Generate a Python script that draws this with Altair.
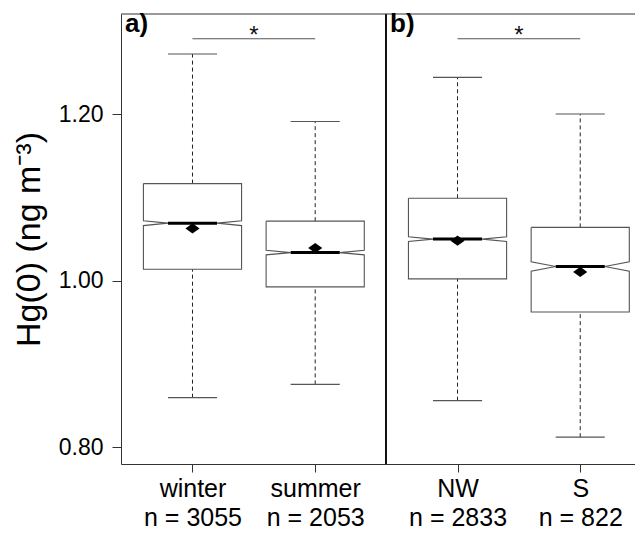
import altair as alt
import pandas as pd
import math

# ---------------- data ----------------
categories = ["winter", "summer", "NW", "S"]
counts = [3055, 2053, 2833, 822]
upper_whisker = [1.272, 1.191, 1.244, 1.200]
q3 = [1.1165, 1.0714, 1.0989, 1.0639]
median = [1.069, 1.0337, 1.0499, 1.017]
q1 = [1.0137, 0.9926, 1.0022, 0.9624]
lower_whisker = [0.8596, 0.8755, 0.856, 0.8122]
mean = [1.0627, 1.0392, 1.048, 1.0105]
comparisons = [("winter", "summer"), ("NW", "S")]
sig_labels = ["*", "*"]
panel_tags = ["a)", "b)"]
y_ticks = [0.80, 1.00, 1.20]
y_title = "Hg(0) (ng m\u207b\u00b3)"

# ---------------- layout (positions / sizes) ----------------
positions = [1.0, 2.0, 3.16, 4.16]
panel_left = [0.4173, 2.577]
divider = [2.577]
W, H = 514, 450
x_domain = [0.4173, 0.4173 + W / 122.7]
y_domain = [0.78, 1.32]
sig_y = 1.2903
half_box = 0.4
half_notch = 0.2
FONT = "Liberation Sans"

pos = dict(zip(categories, positions))

stats = pd.DataFrame({
    "cat": categories, "pos": positions, "n": counts,
    "uw": upper_whisker, "q3": q3, "med": median, "q1": q1,
    "lw": lower_whisker, "mean": mean,
})
stats["capL"] = stats["pos"] - half_notch
stats["capR"] = stats["pos"] + half_notch
stats["notch"] = 1.58 * (stats["q3"] - stats["q1"]) / stats["n"].apply(math.sqrt)

rows = []
for _, r in stats.iterrows():
    p = r["pos"]
    nhi, nlo = r["med"] + r["notch"], r["med"] - r["notch"]
    pts = [(p - half_box, r["q3"]), (p + half_box, r["q3"]), (p + half_box, nhi),
           (p + half_notch, r["med"]), (p + half_box, nlo), (p + half_box, r["q1"]),
           (p - half_box, r["q1"]), (p - half_box, nlo), (p - half_notch, r["med"]),
           (p - half_box, nhi), (p - half_box, r["q3"])]
    for i, (x, y) in enumerate(pts):
        rows.append({"cat": r["cat"], "i": i, "x": x, "y": y})
poly = pd.DataFrame(rows)

sig = pd.DataFrame({
    "x1": [pos[a] for a, b in comparisons],
    "x2": [pos[b] for a, b in comparisons],
    "y": [sig_y] * len(comparisons),
    "lab": sig_labels,
})
sig["xm"] = (sig["x1"] + sig["x2"]) / 2
tags = pd.DataFrame({"left": panel_left, "tag": panel_tags})
div = pd.DataFrame({"d": divider})

# label expression for multi-line tick labels
expr = "''"
for c, n, p in reversed(list(zip(categories, counts, positions))):
    expr = f"datum.value == {p} ? ['{c}', 'n = {n}'] : {expr}"

xs = alt.Scale(domain=x_domain, nice=False, zero=False)
ys = alt.Scale(domain=y_domain, nice=False, zero=False)
xaxis = alt.Axis(values=positions, labelExpr=expr, title=None, grid=False,
                 tickSize=8, tickColor="#333", domainColor="#333",
                 labelFontSize=25, labelLineHeight=29, labelPadding=4,
                 labelColor="black", labelFont=FONT, labelFlush=False,
                 labelOverlap=False)
yaxis = alt.Axis(values=y_ticks, format=".2f", title=y_title, grid=False,
                 tickSize=9, tickColor="#333", domainColor="#333",
                 labelFontSize=23, labelPadding=9, labelColor="black",
                 labelFont=FONT, titleFont=FONT, titleFontSize=34,
                 titleFontWeight="normal", titleColor="black", titlePadding=12)


def X(f):
    return alt.X(f, type="quantitative", scale=xs, axis=xaxis)


def Y(f):
    return alt.Y(f, type="quantitative", scale=ys, axis=yaxis)


base = alt.Chart(stats)

whisk_up = base.mark_rule(color="#222", strokeWidth=1, strokeDash=[4, 3]).encode(
    x=X("pos"), y=Y("q3"), y2="uw")
whisk_lo = base.mark_rule(color="#222", strokeWidth=1, strokeDash=[4, 3]).encode(
    x=X("pos"), y=Y("lw"), y2="q1")
cap_up = base.mark_rule(color="#555", strokeWidth=1.2).encode(
    x=X("capL"), x2="capR", y=Y("uw"))
cap_lo = base.mark_rule(color="#555", strokeWidth=1.2).encode(
    x=X("capL"), x2="capR", y=Y("lw"))
box = alt.Chart(poly).mark_line(color="#555", strokeWidth=1.1).encode(
    x=X("x"), y=Y("y"), detail="cat:N", order="i:Q")
med = base.mark_rule(color="black", strokeWidth=3).encode(
    x=X("capL"), x2="capR", y=Y("med"))
mean_pts = base.mark_point(shape="M-1,0L0,-0.72L1,0L0,0.72Z", filled=True,
                           color="black", opacity=1, size=200).encode(
    x=X("pos"), y=Y("mean"))
divider_rule = alt.Chart(div).mark_rule(color="#111", strokeWidth=2).encode(x=X("d"))
top_frame = alt.Chart(div).mark_rule(color="#333", strokeWidth=1).encode(
    x=alt.value(0), x2=alt.value(W), y=alt.value(0))
sig_bar = alt.Chart(sig).mark_rule(color="#555", strokeWidth=1.2).encode(
    x=X("x1"), x2="x2", y=Y("y"))
sig_txt = alt.Chart(sig).mark_text(fontSize=24, font=FONT, dy=4,
                                   baseline="alphabetic", color="#111").encode(
    x=X("xm"), y=Y("y"), text="lab:N")
tag_txt = alt.Chart(tags).mark_text(fontSize=26, font=FONT, fontWeight="bold",
                                    align="left", baseline="alphabetic", dx=4,
                                    color="black").encode(
    x=X("left"), y=alt.value(18), text="tag:N")

chart = alt.layer(
    whisk_up, whisk_lo, cap_up, cap_lo, box, med, mean_pts,
    divider_rule, top_frame, sig_bar, sig_txt, tag_txt,
).properties(
    width=W, height=H,
    autosize=alt.AutoSizeParams(type="none"),
    padding={"left": 113, "top": 6, "right": 0, "bottom": 67},
    background="white",
).configure_view(stroke=None)

chart.save("out.html", embed_options={"renderer": "svg", "actions": False})
